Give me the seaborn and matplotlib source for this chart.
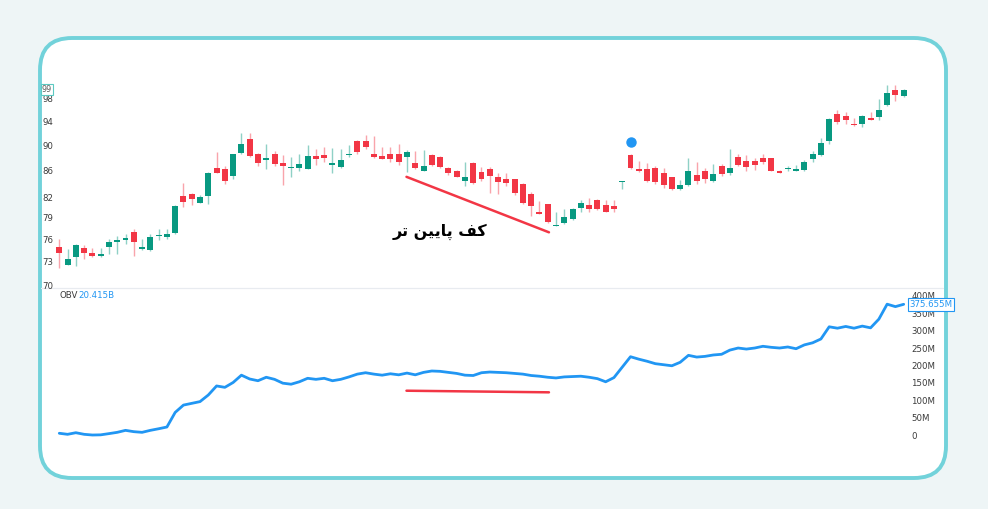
import matplotlib
matplotlib.use("Agg")
import matplotlib.pyplot as plt
from matplotlib.patches import FancyBboxPatch
from matplotlib.ticker import NullLocator, NullFormatter
import numpy as np
import seaborn as sns

# daily candles
opens = [74.9, 72.6, 73.6, 74.8, 74.2, 73.7, 75.0, 75.6, 75.9, 77.0,
         74.7, 74.5, 76.5, 76.3, 76.9, 82.2, 82.5, 81.2, 82.2, 86.4,
         86.2, 85.2, 88.8, 91.1, 88.6, 87.6, 88.6, 87.2, 86.5, 86.4,
         86.3, 88.3, 88.5, 86.9, 86.6, 88.5, 90.8, 90.7, 88.6, 88.3,
         88.6, 88.6, 88.2, 87.2, 86.0, 88.5, 88.2, 86.4, 85.9, 84.4,
         87.2, 85.8, 86.3, 85.0, 84.8, 84.7, 83.9, 82.5, 79.8, 81.0,
         77.9, 78.3, 78.9, 80.4, 80.8, 81.6, 80.9, 80.7, 84.3, 88.5,
         86.2, 86.2, 86.5, 85.6, 85.1, 83.2, 83.8, 85.3, 85.9, 84.4,
         86.7, 85.7, 88.2, 87.5, 87.5, 88.0, 88.0, 86.0, 86.2, 86.0,
         86.1, 87.8, 88.5, 90.7, 95.2, 94.9, 93.6, 93.5, 94.6, 94.7,
         96.8, 99.4, 98.4]
highs = [76.1, 74.7, 75.3, 75.2, 74.8, 74.8, 76.0, 76.4, 76.7, 77.4,
         76.1, 76.8, 77.5, 77.5, 80.8, 84.1, 82.6, 82.3, 85.8, 88.9,
         86.8, 88.7, 92.1, 92.1, 88.8, 90.2, 89.1, 88.5, 88.2, 88.7,
         90.0, 89.4, 89.8, 89.6, 89.5, 90.0, 90.9, 91.7, 91.5, 89.8,
         89.8, 90.3, 89.2, 89.1, 89.2, 88.7, 88.3, 86.6, 86.1, 87.4,
         87.3, 86.6, 86.6, 85.7, 85.7, 84.8, 84.1, 82.7, 81.5, 81.0,
         79.9, 80.3, 80.4, 81.6, 81.9, 81.7, 81.6, 81.6, 84.4, 88.6,
         87.5, 87.2, 86.7, 86.4, 85.1, 84.6, 88.0, 87.4, 86.4, 87.0,
         87.1, 89.4, 88.6, 88.4, 88.0, 88.6, 88.0, 86.1, 86.7, 86.9,
         87.7, 89.1, 91.3, 94.5, 96.0, 95.6, 94.5, 95.0, 95.6, 97.9,
         100.4, 100.4, 99.6]
lows = [72.2, 72.6, 72.5, 73.4, 73.6, 73.6, 74.0, 74.0, 75.4, 73.8,
        74.5, 74.4, 75.9, 76.0, 76.8, 80.5, 80.9, 81.1, 81.0, 85.6,
        84.0, 84.8, 88.7, 88.1, 86.8, 86.2, 86.7, 83.8, 85.1, 85.9,
        86.3, 86.9, 87.3, 85.6, 86.5, 88.1, 88.7, 89.5, 88.0, 87.8,
        87.4, 86.9, 85.8, 86.2, 85.9, 86.7, 86.4, 85.3, 85.0, 83.6,
        84.0, 84.4, 82.6, 82.5, 83.7, 82.3, 81.0, 79.3, 79.5, 78.3,
        77.8, 78.1, 78.7, 79.8, 79.8, 80.1, 79.8, 79.8, 83.2, 86.2,
        85.8, 84.3, 84.0, 83.4, 83.0, 83.0, 83.6, 84.0, 84.1, 84.3,
        85.2, 85.4, 86.7, 86.0, 86.1, 87.1, 85.9, 85.6, 85.9, 85.9,
        86.0, 87.4, 88.3, 90.3, 93.5, 93.5, 93.2, 93.1, 94.2, 94.2,
        96.6, 97.5, 98.3]
closes = [74.1, 73.4, 75.2, 74.2, 73.7, 74.0, 75.6, 75.9, 76.2, 75.7,
          74.9, 76.3, 76.6, 76.8, 80.7, 81.3, 81.7, 82.0, 85.7, 85.7,
          84.4, 88.6, 90.2, 88.3, 87.2, 88.0, 87.1, 86.7, 86.6, 87.1,
          88.3, 87.8, 88.0, 87.2, 87.6, 88.6, 88.9, 89.7, 88.1, 87.9,
          87.9, 87.4, 88.9, 86.5, 86.8, 86.9, 86.6, 85.6, 85.1, 85.0,
          84.1, 84.7, 85.2, 84.3, 84.1, 82.6, 81.2, 80.7, 79.6, 78.4,
          78.0, 79.1, 80.2, 81.2, 80.2, 80.2, 79.9, 80.2, 84.35, 86.4,
          85.9, 84.4, 84.2, 83.8, 83.2, 83.8, 85.9, 84.4, 84.8, 85.5,
          85.5, 86.5, 86.9, 86.6, 86.9, 87.4, 86.0, 85.7, 86.5, 86.2,
          87.4, 88.6, 90.4, 94.4, 93.9, 94.3, 93.3, 94.9, 94.3, 96.0,
          98.9, 98.5, 99.4]

# on balance volume, millions
obv_m = [5, 2, 6.6, 2, 0, 0.5, 4, 7.7, 13.4, 9.6, 7.7, 13.4, 18, 23, 65,
         86, 91, 96, 115, 141, 137, 151, 172, 161, 156, 166, 160, 149, 146,
         153, 163, 160, 163, 156, 160,
         167, 175, 179, 175, 172, 176, 173, 178, 173, 180, 184, 183, 180,
         177, 172, 171, 179, 181, 180, 179, 177, 175, 171, 169, 166, 164,
         167, 168, 169, 166, 162, 153, 165, 195, 225, 218, 212,
         205, 202, 199, 209, 229, 224, 226, 230, 232, 244, 250, 247, 250,
         255, 252, 250, 253, 248, 259, 265, 276, 311, 307, 312, 307, 313,
         308, 333, 376, 369, 375.655]

price_ticks = [70, 73, 76, 79, 82, 86, 90, 94, 98]
obv_ticks = [0, 50, 100, 150, 200, 250, 300, 350, 400]
obv_labels = ["0", "50M", "100M", "150M", "200M", "250M", "300M", "350M", "400M"]

# hand-drawn annotation
trend_idx = [41.94, 59.15]
trend_price = [85.06, 76.97]
trend_obv = [127.3, 122.7]
dot_idx, dot_price = 69.1, 90.5
note_text = "کف پایین تر"
# matplotlib has no arabic shaping / bidi: same words in presentation forms, visual order
note_shaped = "\uFEAE\uFE97 \uFEE6\uFBFF\uFBFE\uFE8E\uFB58 \uFED2\uFB90"

UP = "#089981"
DOWN = "#f23645"
BLUE = "#2196f3"

sns.set_style("white")
plt.rcParams["font.family"] = ["DejaVu Sans"]

fig = plt.figure(figsize=(9.88, 5.09), dpi=100)
fig.patch.set_facecolor("#eef5f6")

# frame, drawn in pixel units
bg = fig.add_axes([0, 0, 1, 1], zorder=-1)
bg.set_xlim(0, 988)
bg.set_ylim(509, 0)
bg.axis("off")
bg.add_patch(FancyBboxPatch((40, 38), 906, 440,
                            boxstyle="round,pad=0,rounding_size=32",
                            facecolor="white", edgecolor="#72d2da", lw=2.8))
bg.plot([41, 943], [287.5, 287.5], color="#e8ebf0", lw=0.9)

ax1 = fig.add_axes([40 / 988, 1 - 287 / 509, 867 / 988, 211 / 509])
ax2 = fig.add_axes([40 / 988, 1 - 445 / 509, 867 / 988, 157 / 509], sharex=ax1)
for ax in (ax1, ax2):
    ax.set_facecolor("none")
    for s in ax.spines.values():
        s.set_visible(False)

idx = np.arange(len(opens))
o = np.array(opens)
c = np.array(closes)
colors = [UP if cc >= oo else DOWN for oo, cc in zip(o, c)]
body_lo = np.minimum(o, c)
body_h = np.maximum(np.abs(c - o), 0.13)

ax1.vlines(idx, lows, highs, colors=colors, lw=1.0, alpha=0.45)
ax1.bar(idx, body_h, bottom=body_lo, width=0.72, color=colors, linewidth=0)

ax1.set_yscale("log")
ax1.set_ylim(69.75, 102.0)
ax1.set_xlim(-2.33, 102.4)
ax1.yaxis.set_minor_locator(NullLocator())
ax1.yaxis.set_minor_formatter(NullFormatter())
ax1.set_yticks(price_ticks)
ax1.set_yticklabels([str(t) for t in price_ticks])
ax1.tick_params(axis="y", length=0, pad=-1.5, labelsize=6.2, labelcolor="#3a3a3a")
for lab in ax1.get_yticklabels():
    lab.set_horizontalalignment("left")
ax1.tick_params(axis="x", bottom=False, labelbottom=False)

ax1.text(0.002, 99.6, "99", transform=ax1.get_yaxis_transform(),
         fontsize=5.8, color="#5a5a5a", va="center", ha="left",
         bbox=dict(boxstyle="square,pad=0.15", fc="white", ec="#5cc9c2", lw=0.8))

ax1.plot(trend_idx, trend_price, color=DOWN, lw=1.8, solid_capstyle="round")
ax1.plot([dot_idx], [dot_price], "o", color=BLUE, ms=6.5)
ax1.text(46.0, 77.1, note_shaped, fontsize=11.5, fontweight="bold",
         color="black", ha="center", va="center")

sns.lineplot(x=idx, y=obv_m, ax=ax2, color=BLUE, lw=2.0)
ax2.plot(trend_idx, trend_obv, color=DOWN, lw=1.8, solid_capstyle="round")
ax2.set_ylim(-28.7, 422.5)
ax2.yaxis.tick_right()
ax2.set_yticks(obv_ticks)
ax2.set_yticklabels(obv_labels)
ax2.tick_params(axis="y", length=0, pad=3, labelsize=6.2, labelcolor="#3a3a3a")
ax2.tick_params(axis="x", bottom=False, labelbottom=False)
ax2.set_xlabel("")
ax2.set_ylabel("")

ax2.text(1.003, obv_m[-1], "375.655M", transform=ax2.get_yaxis_transform(),
         fontsize=6.2, color=BLUE, va="center", ha="left",
         bbox=dict(boxstyle="square,pad=0.2", fc="white", ec=BLUE, lw=0.8))
ax2.text(0.023, 0.955, "OBV", transform=ax2.transAxes, fontsize=6.2,
         color="#3a3a3a", va="center", ha="left")
ax2.text(0.044, 0.955, "20.415B", transform=ax2.transAxes, fontsize=6.2,
         color=BLUE, va="center", ha="left")

fig.savefig("out.png", dpi=100, facecolor=fig.get_facecolor())
